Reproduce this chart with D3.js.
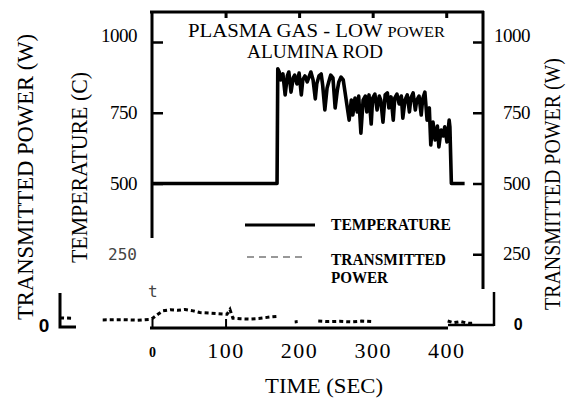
<!DOCTYPE html>
<html>
<head>
<meta charset="utf-8">
<script src="https://cdn.jsdelivr.net/npm/d3@7/dist/d3.min.js"></script>
<style>
body { margin: 0; background: #fff; }
</style>
</head>
<body>
<div id="chart-area"></div>
<script>
// temperature trace (sec, C)
var tempTime = [0, 170, 171, 173, 175, 178, 181, 184, 186, 189, 192, 194, 197, 200, 203, 205, 208, 211, 213, 216,
    219, 222, 224, 227, 230, 232, 235, 238, 241, 243, 246, 249, 252, 254, 257, 260, 262, 265, 268, 271,
    273, 276, 279, 281, 284, 287, 290, 292, 295, 298, 300, 303, 306, 309, 311, 314, 317, 320, 322, 325,
    328, 330, 333, 336, 339, 341, 344, 347, 350, 352, 355, 358, 360, 363, 366, 368, 371, 374, 377, 379,
    382, 385, 388, 390, 393, 396, 398, 401, 404, 405, 407, 425];
var tempValue = [500, 500, 905, 894, 866, 887, 813, 880, 894, 823, 873, 883, 852, 890, 813, 866, 880, 859, 873, 894,
    866, 799, 852, 880, 887, 848, 760, 837, 866, 883, 873, 767, 830, 859, 876, 866, 830, 777, 724, 795,
    742, 802, 753, 809, 678, 795, 809, 753, 813, 710, 802, 816, 760, 809, 795, 717, 813, 820, 767, 806,
    724, 802, 816, 781, 809, 731, 795, 813, 753, 802, 820, 760, 795, 809, 742, 799, 823, 724, 767, 636,
    717, 654, 703, 629, 689, 668, 700, 647, 724, 700, 500, 500];

// transmitted power trace (sec, W), null = gap in the trace
var powerTime = [-125, -107, null, -67, -40, -20, -3, 1, 8, 15, 25, 35, 45, 56, 65, 79, 90, 102, 106, 110,
    120, 133, 145, 160, 170, null, 194, 198, null, 226, 240, 255, 270, 285, 299, null, 402, 410, 420, 430, 439];
var powerValue = [25, 24, null, 18, 19, 17, 20, 24, 38, 50, 54, 52, 55, 50, 44, 42, 40, 38, 55, 24,
    22, 21, 23, 28, 30, null, 11, 12, null, 14, 12, 13, 11, 14, 12, null, 14, 8, 12, 6, 7];

var timeTicks = [0, 100, 200, 300, 400];
var topTicks = [100, 200, 300, 400];
var leftTicks = [250, 500, 750, 1000];
var rightTicks = [0, 250, 500, 750, 1000];

var width = 566,
    height = 401;

var serif = "'Liberation Serif', 'DejaVu Serif', serif";
var mono = "'DejaVu Sans Mono', monospace";

var svg = d3.select("#chart-area")
    .append("svg")
        .attr("width", width)
        .attr("height", height)
        .style("display", "block");

var x = d3.scaleLinear()
    .domain([0, 450])
    .range([152, 483]);

var y = d3.scaleLinear()
    .domain([0, 1000])
    .range([325, 42]);

// frame pieces (the scan has broken corners)
var thick = [
    [[150, 12], [484, 12]],
    [[152, 11], [152, 238]],
    [[483, 11], [483, 289]],
    [[150, 328], [448, 328]],
    [[60, 293], [60, 327], [76, 327]]
];
var thin = [
    [[448, 325], [494, 325]],
    [[494, 292], [494, 326]]
];

svg.selectAll(".frame")
    .data(thick)
    .enter().append("path")
        .attr("class", "frame")
        .attr("d", d3.line())
        .attr("fill", "none")
        .attr("stroke", "#000")
        .attr("stroke-width", 3);

svg.selectAll(".frame-thin")
    .data(thin)
    .enter().append("path")
        .attr("class", "frame-thin")
        .attr("d", d3.line())
        .attr("fill", "none")
        .attr("stroke", "#000")
        .attr("stroke-width", 2.5);

//Top ticks
svg.append("g")
    .attr("transform", "translate(0,12)")
    .call(d3.axisTop(x).tickValues(topTicks).tickSizeInner(-6).tickSizeOuter(0).tickFormat(""))
    .call(g => g.select(".domain").remove())
    .selectAll("line").attr("stroke-width", 3);

//Bottom axis
var xAxis = svg.append("g")
    .attr("transform", "translate(0,328)")
    .call(d3.axisBottom(x).tickValues(timeTicks).tickSizeInner(-9).tickSizeOuter(0).tickFormat(d3.format("d")));
xAxis.select(".domain").remove();
xAxis.selectAll(".tick line")
    .attr("stroke-width", 2)
    .attr("display", d => d > 100 ? "none" : null);
xAxis.selectAll(".tick text")
    .attr("dy", 0)
    .attr("y", d => d == 0 ? 29 : 30)
    .attr("fill", "#000")
    .style("font-family", serif)
    .style("font-size", d => d == 0 ? "14px" : "22px")
    .style("font-weight", d => d == 0 ? "bold" : "normal")
    .style("letter-spacing", d => d == 0 ? "0px" : "1.5px");

//Left axis
var yLeft = svg.append("g")
    .attr("transform", "translate(152,0)")
    .call(d3.axisLeft(y).tickValues(leftTicks).tickSizeInner(-11).tickSizeOuter(0).tickPadding(15).tickFormat(d3.format("d")));
yLeft.select(".domain").remove();
yLeft.selectAll(".tick line")
    .attr("stroke-width", 2.5)
    .attr("display", d => d == 250 ? "none" : null);
yLeft.selectAll(".tick text")
    .attr("fill", d => d == 250 ? "#444" : "#000")
    .style("font-family", d => d == 250 ? mono : serif)
    .style("font-size", d => d == 250 ? "16px" : "19px")
    .style("letter-spacing", d => d == 250 ? "0px" : "-0.5px")
    .attr("dy", d => d == 1000 ? "-0.05em" : "0.3em");

//Right axis
var yRight = svg.append("g")
    .attr("transform", "translate(483,0)")
    .call(d3.axisRight(y).tickValues(rightTicks).tickSizeInner(-10).tickSizeOuter(0).tickFormat(d3.format("d")));
yRight.select(".domain").remove();
yRight.selectAll(".tick line")
    .attr("stroke-width", 2.5)
    .attr("display", d => d == 0 ? "none" : null);
yRight.selectAll(".tick text")
    .attr("x", d => d == 0 ? 35 : 47)
    .attr("text-anchor", d => d == 0 ? "middle" : "end")
    .attr("dy", d => d == 1000 ? "-0.05em" : "0.3em")
    .attr("fill", "#000")
    .style("font-family", d => d == 0 ? "'Liberation Sans', Arial, sans-serif" : serif)
    .style("font-weight", d => d == 0 ? "bold" : "normal")
    .style("font-size", d => d == 0 ? "16px" : "19px")
    .style("letter-spacing", "-0.5px");

// far-left zero of the power scale
svg.append("text")
    .attr("x", 44)
    .attr("y", y(0) + 7)
    .attr("text-anchor", "middle")
    .style("font-family", "'Liberation Sans', Arial, sans-serif")
    .style("font-size", "19px")
    .style("font-weight", "bold")
    .text("0");

// stray "t" from the scan
svg.append("text")
    .attr("x", 148)
    .attr("y", 297)
    .attr("fill", "#444")
    .style("font-family", mono)
    .style("font-size", "16px")
    .text("t");

//Temperature line
var tempData = tempTime.map((t, i) => ({ t: t, v: tempValue[i] }));
var line = d3.line()
    .x(d => x(d.t))
    .y(d => y(d.v));

svg.append("path")
    .datum(tempData)
    .attr("d", line)
    .attr("fill", "none")
    .attr("stroke", "#000")
    .attr("stroke-width", 3.6)
    .attr("stroke-linejoin", "round");

//Power line
var powerData = powerTime.map((t, i) => ({ t: t, v: powerValue[i] }));
var powerLine = d3.line()
    .defined(d => d.v != null)
    .x(d => x(d.t))
    .y(d => y(d.v));

svg.append("path")
    .datum(powerData)
    .attr("d", powerLine)
    .attr("fill", "none")
    .attr("stroke", "#000")
    .attr("stroke-width", 3)
    .attr("stroke-dasharray", "4,3");

//Title
svg.append("text")
    .attr("x", 188)
    .attr("y", 37)
    .attr("textLength", 257)
    .attr("lengthAdjust", "spacingAndGlyphs")
    .style("font-family", serif)
    .style("font-size", "19px")
    .text("PLASMA GAS - LOW ")
    .append("tspan")
        .style("font-size", "15px")
        .text("POWER");

svg.append("text")
    .attr("x", 247)
    .attr("y", 58)
    .attr("textLength", 136)
    .attr("lengthAdjust", "spacingAndGlyphs")
    .style("font-family", serif)
    .style("font-size", "18px")
    .text("ALUMINA ROD");

//Legend
svg.append("line")
    .attr("x1", 245).attr("x2", 315)
    .attr("y1", 225).attr("y2", 225)
    .attr("stroke", "#000")
    .attr("stroke-width", 2.8);

svg.append("line")
    .attr("x1", 247).attr("x2", 306)
    .attr("y1", 257).attr("y2", 257)
    .attr("stroke", "#333")
    .attr("stroke-width", 1.2)
    .attr("stroke-dasharray", "7,5");

var legendText = [
    { text: "TEMPERATURE", y: 230, len: 120 },
    { text: "TRANSMITTED", y: 265, len: 115 },
    { text: "POWER", y: 283, len: 57 }
];
svg.selectAll(".legend-text")
    .data(legendText)
    .enter().append("text")
        .attr("class", "legend-text")
        .attr("x", 331)
        .attr("y", d => d.y)
        .attr("textLength", d => d.len)
        .attr("lengthAdjust", "spacingAndGlyphs")
        .style("font-family", serif)
        .style("font-size", "16px")
        .style("font-weight", "bold")
        .text(d => d.text);

//X Label
svg.append("text")
    .attr("x", 265)
    .attr("y", 393)
    .attr("textLength", 118)
    .attr("lengthAdjust", "spacingAndGlyphs")
    .style("font-family", serif)
    .style("font-size", "21px")
    .text("TIME (SEC)");

//Y Labels
var yLabels = [
    { text: "TRANSMITTED POWER (W)", x: 33, y0: 320, len: 286 },
    { text: "TEMPERATURE (C)", x: 87, y0: 263, len: 191 },
    { text: "TRANSMITTED POWER (W)", x: 560, y0: 310, len: 252 }
];
svg.selectAll(".y-label")
    .data(yLabels)
    .enter().append("text")
        .attr("class", "y-label")
        .attr("transform", d => "translate(" + d.x + "," + d.y0 + ") rotate(-90)")
        .attr("textLength", d => d.len)
        .attr("lengthAdjust", "spacingAndGlyphs")
        .style("font-family", serif)
        .style("font-size", "24px")
        .text(d => d.text);
</script>
</body>
</html>
